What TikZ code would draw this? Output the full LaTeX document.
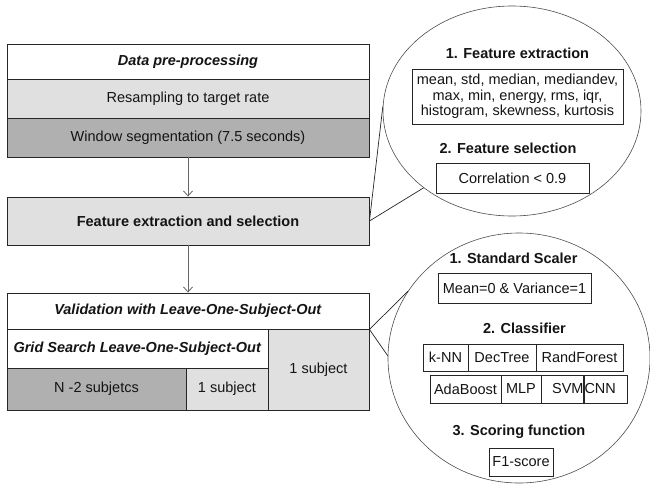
\documentclass[tikz,border=0pt]{standalone}
\usepackage{fontspec}
\setmainfont{Liberation Sans}
\usetikzlibrary{arrows.meta,shapes.geometric}

\definecolor{lightbox}{HTML}{E0E0E0}
\definecolor{darkbox}{HTML}{B0B0B0}

\begin{document}
\begin{tikzpicture}[x=1pt,y=-1pt,
  font=\fontsize{14.5}{15.5}\selectfont,
  stage/.style={draw=black!85,line width=0.9pt,inner sep=0pt,text=black!92},
  bubble/.style={draw=black!70,line width=0.6pt,ellipse,inner sep=0pt},
  item/.style={draw=black!85,line width=0.8pt,inner sep=0pt,align=center,text=black!92},
  title/.style={font=\fontsize{14.5}{15.5}\selectfont\bfseries,text=black!92},
  flow/.style={draw=black!60,line width=0.8pt,-{Straight Barb[length=5pt,width=9pt]}}]
\useasboundingbox (0,0) rectangle (650,485);

%\tikzset{every node/.style={draw=red}}

% pipeline on the left
\node[stage,fill=white,minimum width=362pt,minimum height=35pt] (pre) at (188,61.5)
  {\textbf{\textit{Data pre-processing}}};
\node[stage,fill=lightbox,minimum width=362pt,minimum height=39pt] (resamp) at (188,98.5)
  {Resampling to target rate};
\node[stage,fill=darkbox,minimum width=362pt,minimum height=39pt] (window) at (188,137.5)
  {Window segmentation (7.5 seconds)};
\node[stage,fill=lightbox,minimum width=362pt,minimum height=48pt] (feat) at (188,221)
  {\textbf{Feature extraction and selection}};
\node[stage,fill=white,minimum width=362pt,minimum height=36pt] (valid) at (188,311)
  {\textbf{\textit{Validation with Leave-One-Subject-Out}}};
\node[stage,fill=white,minimum width=261pt,minimum height=39pt] (grid) at (137.5,348.5)
  {\textbf{\textit{Grid Search Leave-One-Subject-Out}}};
\node[stage,fill=darkbox,minimum width=179pt,minimum height=42pt] (train) at (96.5,389)
  {N -2 subjetcs};
\node[stage,fill=lightbox,minimum width=82pt,minimum height=42pt] (inner) at (227,389)
  {1 subject};
\node[stage,fill=lightbox,minimum width=101pt,minimum height=81pt] (outer) at (318.5,369.5)
  {1 subject};
\draw[black!85,line width=1.6pt] (valid.south west) -- (valid.south east);

\draw[flow] (window) -- (feat);
\draw[flow] (feat) -- (valid);

% zoom on feature extraction
\node[bubble,minimum width=258pt,minimum height=210pt] (fx) at (512,111) {};
\draw[black!85,line width=0.7pt] (fx.178) -- (feat.east) -- (fx.221);

\node[title] (fxt) at (517.5,53) {1. Feature extraction};
\node[item,minimum width=211pt,minimum height=55pt] (feats) at (517.5,96.5)
  {mean, std, median, mediandev,\\max, min, energy, rms, iqr,\\histogram, skewness, kurtosis};
\node[title] (fst) at (508,148) {2. Feature selection};
\node[item,minimum width=153pt,minimum height=30pt] (corr) at (512.5,178) {Correlation < 0.9};

% zoom on the validation
\node[bubble,minimum width=262pt,minimum height=250pt] (cl) at (519,358) {};
\draw[black!85,line width=0.7pt] (cl.149) -- (valid.south east) -- (cl.179);

\node[title] (sst) at (513.5,258) {1. Standard Scaler};
\node[item,minimum width=153pt,minimum height=30pt] (scale) at (514.5,288) {Mean=0 \& Variance=1};
\node[title] (clt) at (524.5,328) {2. Classifier};
\node[item,minimum width=45pt,minimum height=27pt] (knn) at (445.5,357.5) {k-NN};
\node[item,minimum width=68pt,minimum height=27pt] (dt) at (502,357.5) {DecTree};
\node[item,minimum width=87pt,minimum height=27pt] (rf) at (579.5,357.5) {RandForest};
\node[item,minimum width=71pt,minimum height=28pt] (ada) at (465.5,389) {AdaBoost};
\node[item,minimum width=40pt,minimum height=28pt] (mlp) at (521,389) {MLP};
\node[item,minimum height=28pt,text width=42pt,align=right] (svm) at (562.5,389) {SVM};
\node[item,minimum height=28pt,text width=43pt,align=left] (cnn) at (606,389) {CNN};
\node[title] (sft) at (519,432) {3. Scoring function};
\node[item,minimum width=64pt,minimum height=28pt] (f1) at (521,462) {F1-score};

\end{tikzpicture}
\end{document}
